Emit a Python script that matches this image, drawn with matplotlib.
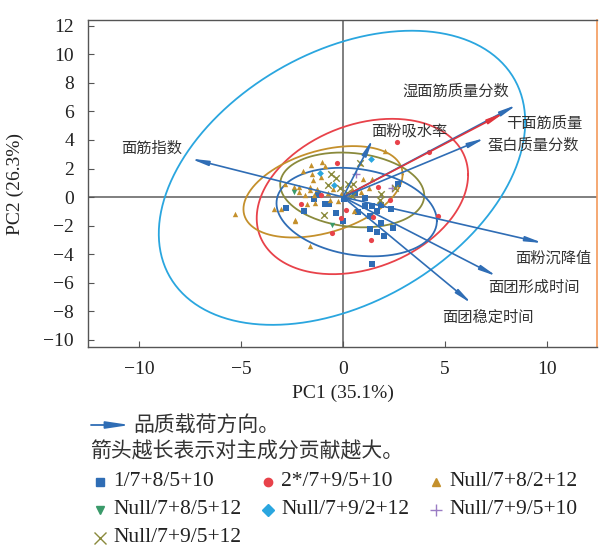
import numpy as np
import matplotlib
matplotlib.use("Agg")
import matplotlib.pyplot as plt

plt.rcParams['font.family'] = ['Liberation Serif', 'Noto Sans CJK SC', 'DejaVu Sans']

# ---- scores (PC1, PC2) per group ----
g1_x = [-1.24, -1.44, -0.88, -0.70, -2.78, -1.93, -0.36, -0.01, 0.03, 0.57, 1.07, 1.09, 1.40,
        1.84, 2.33, 1.68, 0.72, 1.34, 1.84, 2.43, 1.31, 1.66, 1.99, 1.44, 2.71]
g1_y = [0.15, -0.16, -0.48, -0.48, -0.77, -0.98, -1.10, -1.68, -0.16, 0.31, -0.09, -0.65, -0.63,
        -0.56, -0.86, -0.95, -1.07, -1.35, -1.82, -2.17, -2.26, -2.45, -2.75, -4.71, 0.89]
g2_x = [2.67, -0.31, -2.08, 0.17, -0.09, 1.48, 1.69, 2.29, 1.36, -0.56, 4.67, -1.10, 4.23]
g2_y = [3.83, 2.41, -0.51, -0.93, -1.44, -1.38, 0.68, -0.18, -3.03, -2.52, -1.35, 0.15, 3.15]
g3_x = [-1.55, -1.03, -0.86, -1.97, -1.50, -1.10, -1.47, -2.82, -2.42, -2.18, -2.18, -1.64,
        -1.28, -1.60, -1.44, -1.87, -1.77, -1.39, -3.37, -3.03, -2.34, -2.34, -1.64, -0.64,
        -0.25, -0.08, 0.54, 0.86, 1.00, 1.28, 0.82, 2.05, -5.29, -0.51, -0.75, 1.43, 0.43]
g3_y = [2.22, 2.43, 2.17, 1.82, 1.59, 1.38, 1.22, 0.91, 0.70, 0.68, 0.33, 0.70,
        0.59, 0.47, 0.17, 0.17, -0.46, -0.42, -0.84, -0.81, -1.58, -1.70, -3.40, -0.23,
        -0.30, 0.24, -1.00, 0.35, 1.24, 0.63, 2.41, 3.20, -1.21, 0.56, 0.28, 1.29, 0.54]
g4_x = [-2.40, -0.54]
g4_y = [0.35, -1.96]
g5_x = [-1.14, -0.43, 1.36]
g5_y = [1.66, 0.82, 2.64]
g6_x = [2.38, 0.66]
g6_y = [0.63, 1.59]
g7_x = [-0.58, -0.32, -0.73, -0.16, 0.22, 0.49, 0.20, 0.81, 1.88, 1.80, 2.54, -0.91, 0.43]
g7_y = [1.59, 1.31, 0.85, 0.66, 0.94, 0.94, 0.28, 2.36, 0.19, -0.18, 0.66, -1.23, 0.05]

group_names = ['1/7+8/5+10', '2*/7+9/5+10', 'Null/7+8/2+12', 'Null/7+8/5+12',
               'Null/7+9/2+12', 'Null/7+9/5+10', 'Null/7+9/5+12']
group_x = [g1_x, g2_x, g3_x, g4_x, g5_x, g6_x, g7_x]
group_y = [g1_y, g2_y, g3_y, g4_y, g5_y, g6_y, g7_y]

# ---- confidence ellipses: centre, half extent in x / y, correlation ----
ell_group = [4, 1, 2, 6, 0]
ell_cx = [-0.05, 0.95, -0.98, 0.45, 0.67]
ell_cy = [1.35, 0.04, 0.37, 0.50, -1.05]
ell_wx = [8.98, 5.18, 3.90, 3.53, 3.93]
ell_wy = [10.3, 5.44, 3.20, 2.62, 3.10]
ell_r = [0.38, 0.28, 0.38, -0.15, -0.20]

# ---- loadings ----
load_names = ['湿面筋质量分数', '干面筋质量', '蛋白质量分数', '面粉吸水率', '面筋指数',
              '面粉沉降值', '面团形成时间', '面团稳定时间']
load_x = [8.52, 7.90, 6.96, 1.47, -7.47, 9.80, 7.54, 6.31]
load_y = [6.46, 5.90, 4.13, 4.08, 2.69, -3.22, -5.55, -7.46]

# styles / label placement
colors = ['#2f6db5', '#e8424a', '#c4902c', '#3a9a6a', '#2aa6df', '#9a7cc4', '#8a8a3c']
markers = ['s', 'o', '^', 'v', 'D', '+', 'x']
msizes = [16, 14, 15, 15, 12, 26, 22]
load_colors = ['#2f6db5', '#e0343c', '#2f6db5', '#2f6db5', '#2f6db5', '#2f6db5', '#2f6db5', '#2f6db5']
label_pos = [(2.93, 7.39), (7.98, 5.2), (7.10, 3.57), (1.40, 4.6), (-10.9, 3.43),
             (8.44, -4.31), (7.13, -6.31), (4.84, -8.39)]

fig = plt.figure(figsize=(6.01, 5.5), dpi=100)
ax = fig.add_axes([0.1464, 0.3691, 0.847, 0.5945])

ax.axhline(0, color='#7f7f7f', lw=1.4, zorder=1)
ax.axvline(0, color='#7f7f7f', lw=1.4, zorder=1)

t = np.linspace(0, 2 * np.pi, 300)
for gi, cx, cy, wx, wy, r in zip(ell_group, ell_cx, ell_cy, ell_wx, ell_wy, ell_r):
    ex = cx + wx * np.cos(t)
    ey = cy + wy * (r * np.cos(t) + np.sqrt(1 - r * r) * np.sin(t))
    ax.plot(ex, ey, color=colors[gi], lw=1.3, zorder=2)

for i in range(len(group_names)):
    lw = 1.0 if markers[i] in ('+', 'x') else 0
    ax.scatter(group_x[i], group_y[i], s=msizes[i], marker=markers[i], color=colors[i],
               linewidths=lw, zorder=3)

for name, lx, ly, c, (tx, ty) in zip(load_names, load_x, load_y, load_colors, label_pos):
    ax.annotate('', xy=(lx, ly), xytext=(0, 0),
                arrowprops=dict(arrowstyle='-|>,head_length=0.7,head_width=0.1',
                                mutation_scale=14, color=c, lw=1.2,
                                shrinkA=0, shrinkB=0), zorder=4)
    ax.text(tx, ty, name, fontsize=11, ha='left', va='center', color='#333333',
            family=['Noto Sans CJK SC', 'DejaVu Sans'], zorder=5)

ax.set_xlim(-12.5, 12.45)
ax.set_ylim(-10.5, 12.4)
ax.set_xticks([-10, -5, 0, 5, 10])
ax.set_yticks(np.arange(-10, 13, 2))
ax.tick_params(direction='in', length=4, width=0.8, color='#555555', labelsize=14, pad=10,
               labelcolor='#222222')
for s in ['left', 'bottom', 'top']:
    ax.spines[s].set_color('#555555')
    ax.spines[s].set_linewidth(1.0)
ax.spines['right'].set_color('#f39a5b')
ax.spines['right'].set_linewidth(1.2)

ax.set_xlabel('PC1 (35.1%)', fontsize=14, color='#222222')
ax.xaxis.set_label_coords(0.5, -0.115)
ax.set_ylabel('PC2 (26.3%)', fontsize=14, color='#222222')
ax.yaxis.set_label_coords(-0.125, 0.5)

# ---- legend area (figure pixel coordinates) ----
lax = fig.add_axes([0, 0, 1, 1])
lax.set_xlim(0, 601)
lax.set_ylim(550, 0)
lax.axis('off')
lax.annotate('', xy=(130, 425), xytext=(91, 425),
             arrowprops=dict(arrowstyle='-|>,head_length=1.0,head_width=0.15',
                             mutation_scale=14, color='#2f6db5', lw=1.3,
                             shrinkA=0, shrinkB=0))
cjk = ['Noto Sans CJK SC', 'DejaVu Sans']
lax.text(133, 425, '品质载荷方向。', fontsize=15, ha='left', va='center', color='#333333', family=cjk)
lax.text(90, 452, '箭头越长表示对主成分贡献越大。', fontsize=15, ha='left', va='center',
         color='#333333', family=cjk)

col_x = [100, 268, 436]
row_y = [482, 510, 538]
for i, name in enumerate(group_names):
    r_, c_ = divmod(i, 3)
    mk = markers[i]
    lax.plot([col_x[c_]], [row_y[r_]], marker=mk, color=colors[i], ls='none',
             markersize=6 if mk not in ('+', 'x') else 8, mew=1.0)
    lax.text(col_x[c_] + 13, row_y[r_], name, fontsize=15.5, ha='left', va='center',
             color='#222222')

fig.savefig('out.png', dpi=100)
